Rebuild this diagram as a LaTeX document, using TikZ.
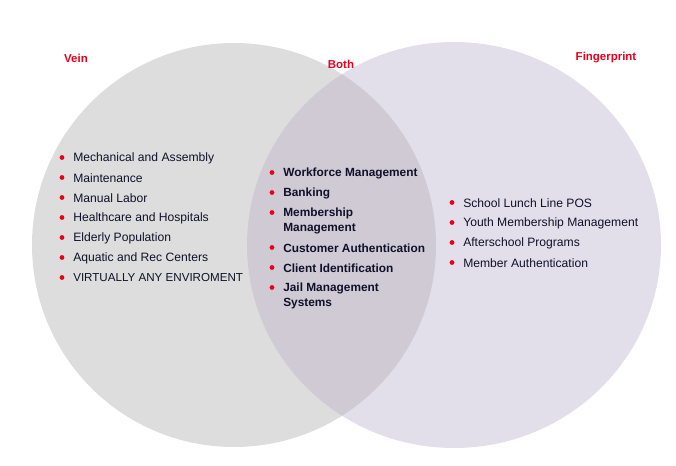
\documentclass[tikz,border=0pt]{standalone}
\usepackage{fontspec}
\setmainfont{Liberation Sans}
\definecolor{leftgray}{HTML}{DDDDDD}
\definecolor{rightlav}{HTML}{E3DFEA}
\definecolor{overlap}{HTML}{CFCAD4}
\definecolor{lblred}{HTML}{E8001C}
\definecolor{txt}{HTML}{10102A}
\tikzset{
  item/.style={anchor=west, inner sep=0pt, font=\fontsize{9.1}{11.25}\selectfont, text=txt, align=left},
  capsitem/.style={item, font=\fontsize{8.7}{11.25}\selectfont},
  bolditem/.style={item, font=\fontsize{8.9}{11.25}\selectfont\bfseries},
  dot/.style={circle, fill=lblred, inner sep=0pt, minimum size=3.6pt},
  lbl/.style={inner sep=0pt, font=\fontsize{8.6}{10}\selectfont\bfseries, text=lblred}
}
\begin{document}
\begin{tikzpicture}[x=0.75pt,y=-0.75pt]
\useasboundingbox (0,0) rectangle (676,465);
\fill[leftgray] (234,245) ellipse [x radius=202, y radius=202];
\fill[rightlav] (454,245) ellipse [x radius=207, y radius=203];
\begin{scope}
\clip (234,245) ellipse [x radius=202, y radius=202];
\fill[overlap] (454,245) ellipse [x radius=207, y radius=203];
\end{scope}
\node[lbl] (vein) at (76,58) {Vein};
\node[lbl] (both) at (341,64) {Both};
\node[lbl] (finger) at (606,58) {Fingerprint};
% left list
\foreach \t [count=\i] in {Mechanical and Assembly,Maintenance,Manual Labor,Healthcare and Hospitals,Elderly Population,Aquatic and Rec Centers}{
  \node[dot] (ld\i) at (62,{137.5+20*\i}) {};
  \node[item] (lt\i) at (73,{138+20*\i}) {\t};
}
\node[dot] (ld7) at (62,277.5) {};
\node[capsitem] (lt7) at (73,278) {VIRTUALLY ANY ENVIROMENT};
% middle list
\node[dot] (md1) at (272,172.5) {};
\node[bolditem] (mt1) at (283,173) {Workforce Management};
\node[dot] (md2) at (272,192.5) {};
\node[bolditem] (mt2) at (283,193) {Banking};
\node[dot] (md3) at (272,212.5) {};
\node[bolditem] (mt3) at (283,220.5) {Membership\\Management};
\node[dot] (md4) at (272,247.5) {};
\node[bolditem] (mt4) at (283,248) {Customer Authentication};
\node[dot] (md5) at (272,267.5) {};
\node[bolditem] (mt5) at (283,268) {Client Identification};
\node[dot] (md6) at (272,287.5) {};
\node[bolditem] (mt6) at (283,295.5) {Jail Management\\Systems};
% right list
\foreach \t [count=\i] in {School Lunch Line POS,Youth Membership Management,Afterschool Programs,Member Authentication}{
  \node[dot] (rd\i) at (452,{182.5+20*\i}) {};
  \node[item] (rt\i) at (463,{183+20*\i}) {\t};
}
\end{tikzpicture}
\end{document}
